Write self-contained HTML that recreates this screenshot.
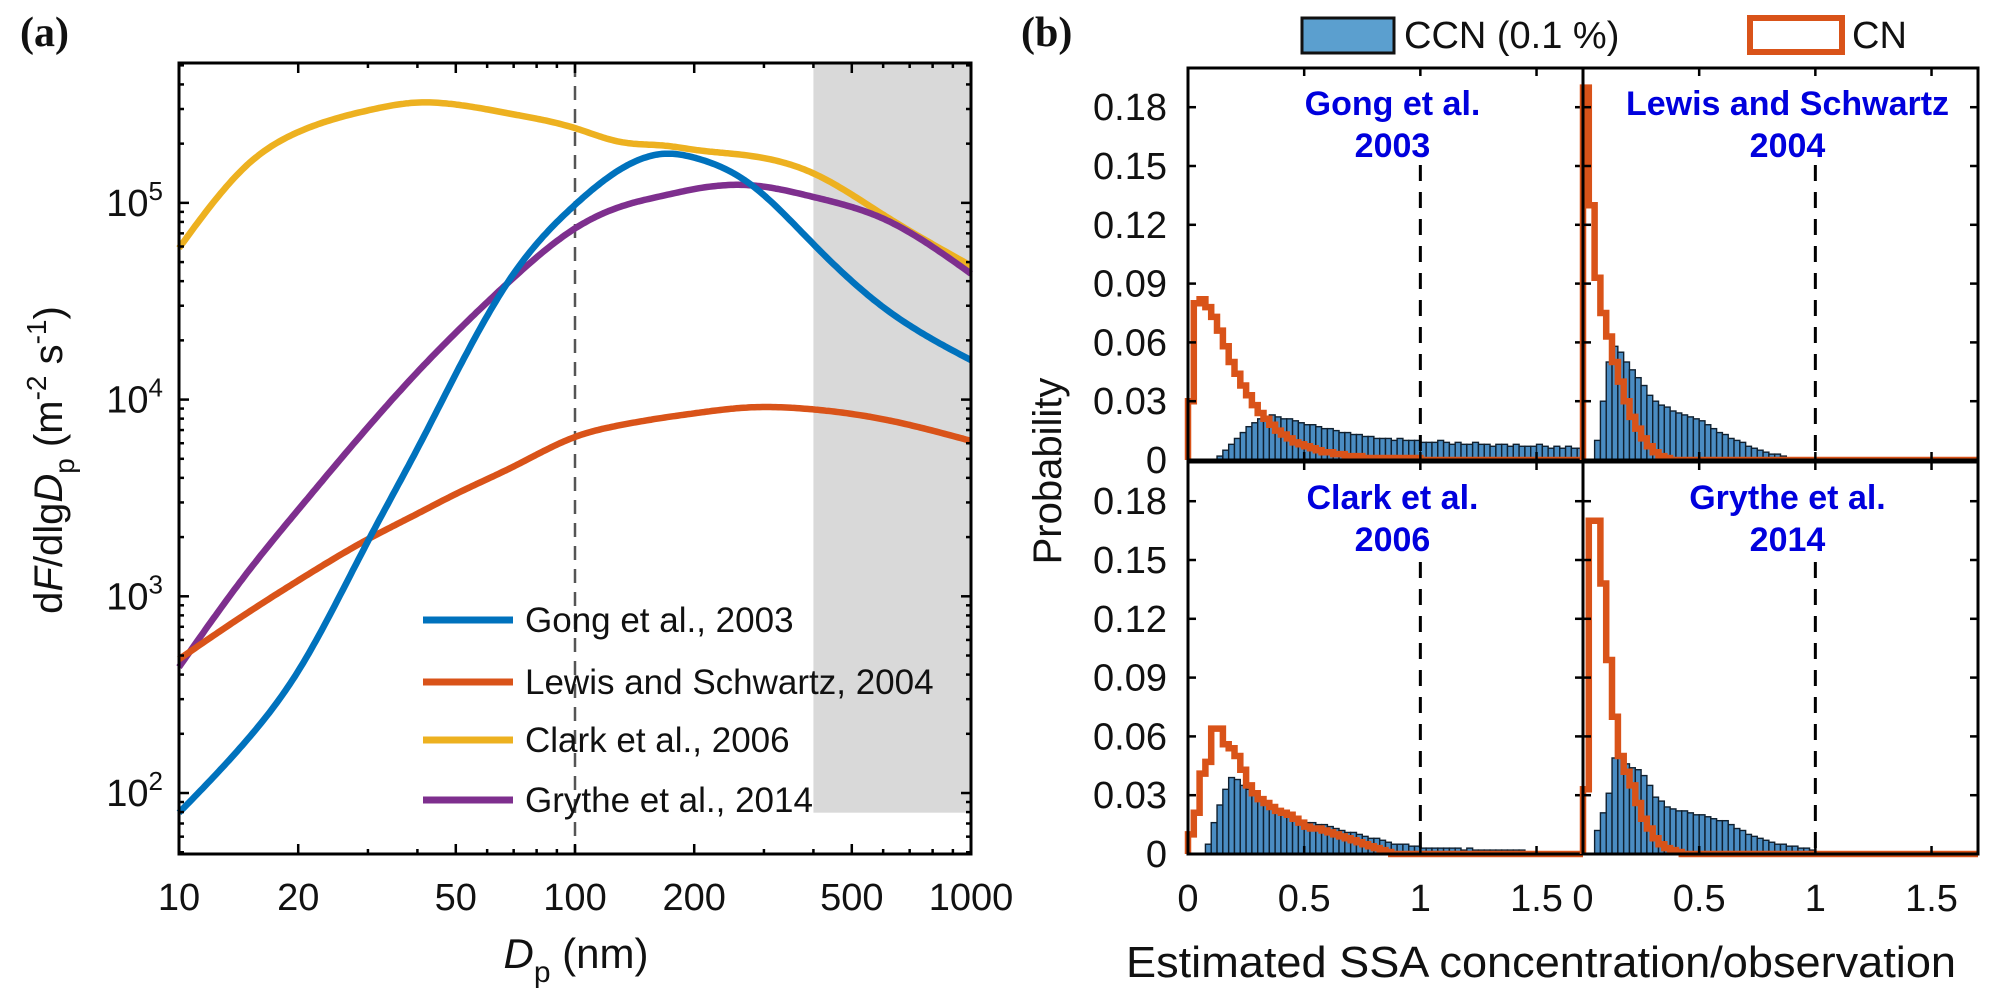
<!DOCTYPE html>
<html><head><meta charset="utf-8">
<style>
html,body{margin:0;padding:0;background:#fff;}
svg{display:block;font-family:"Liberation Sans",Arial,sans-serif;}
</style></head>
<body>
<svg id="fig" width="1993" height="998" viewBox="0 0 1993 998" xmlns="http://www.w3.org/2000/svg">
  <g id="pa"></g>
  <g id="pb"></g>
</svg>
<script>
// ---------- Panel (a) data ----------
const dpCategories = [10,15,20,30,40,50,70,100,130,170,200,275,400,600,1000];
const gongLog   = [1.90,2.28,2.62,3.28,3.75,4.13,4.64,4.99,5.17,5.25,5.23,5.10,4.79,4.47,4.20];
const lewisLog  = [2.68,2.92,3.08,3.29,3.42,3.52,3.66,3.81,3.87,3.91,3.93,3.96,3.95,3.90,3.79];
const clarkLog  = [4.77,5.20,5.36,5.47,5.51,5.50,5.45,5.38,5.31,5.29,5.27,5.24,5.15,4.94,4.68];
const grytheLog = [2.64,3.13,3.44,3.86,4.14,4.34,4.62,4.87,4.98,5.04,5.07,5.09,5.03,4.92,4.64];
const xTickLabelsA = ["10","20","50","100","200","500","1000"];
const yTickExpA = [2,3,4,5];
const legendLabelsA = ["Gong et al., 2003","Lewis and Schwartz, 2004","Clark et al., 2006","Grythe et al., 2014"];

// ---------- Panel (b) data (bin width 0.025) ----------
const binWidth = 0.025;
const yTickLabelsB = ["0","0.03","0.06","0.09","0.12","0.15","0.18"];
const xTickLabelsB = ["0","0.5","1","1.5"];
const panelTitles = [["Gong et al.","2003"],["Lewis and Schwartz","2004"],["Clark et al.","2006"],["Grythe et al.","2014"]];
const gongCCN = [0,0,0,0,0,0.002,0.005,0.008,0.011,0.014,0.017,0.019,0.021,0.022,0.023,0.022,0.021,0.021,0.020,0.019,0.018,0.018,0.017,0.016,0.016,0.015,0.014,0.014,0.013,0.013,0.012,0.012,0.011,0.011,0.011,0.010,0.011,0.010,0.010,0.010,0.009,0.009,0.009,0.010,0.009,0.008,0.009,0.008,0.008,0.009,0.008,0.008,0.007,0.008,0.008,0.007,0.008,0.007,0.007,0.007,0.008,0.007,0.006,0.007,0.006,0.007,0.006,0.006];
const gongCN = [0.030,0.080,0.082,0.078,0.073,0.066,0.058,0.050,0.044,0.038,0.033,0.028,0.024,0.021,0.018,0.015,0.013,0.011,0.009,0.008,0.007,0.006,0.005,0.004,0.004,0.003,0.003,0.002,0.002,0.002,0.001,0.001,0.001,0.001,0.001,0.001,0.001,0.001,0.001,0.001];
const lewisCCN = [0,0,0.010,0.030,0.050,0.058,0.055,0.050,0.046,0.042,0.038,0.033,0.030,0.028,0.027,0.025,0.024,0.023,0.022,0.021,0.020,0.018,0.016,0.014,0.013,0.011,0.010,0.009,0.007,0.006,0.005,0.004,0.003,0.003,0.002,0.001];
const lewisCN = [0.190,0.130,0.093,0.075,0.063,0.050,0.040,0.030,0.022,0.016,0.011,0.007,0.004,0.002,0.001];
const clarkCCN = [0,0,0,0.005,0.016,0.025,0.033,0.039,0.038,0.035,0.033,0.030,0.028,0.027,0.025,0.022,0.021,0.019,0.018,0.017,0.016,0.016,0.015,0.015,0.014,0.013,0.012,0.011,0.011,0.010,0.009,0.008,0.008,0.007,0.006,0.005,0.005,0.005,0.004,0.004,0.003,0.003,0.003,0.003,0.003,0.003,0.003,0.002,0.003,0.002,0.002,0.002,0.002,0.002,0.002,0.002,0.002,0.002,0.001,0.001,0.001,0.001];
const clarkCN = [0.010,0.021,0.041,0.047,0.064,0.064,0.056,0.054,0.050,0.043,0.035,0.031,0.028,0.026,0.024,0.022,0.021,0.020,0.018,0.016,0.014,0.013,0.013,0.012,0.011,0.010,0.009,0.008,0.007,0.006,0.005,0.004,0.003,0.002,0.001];
const grytheCCN = [0,0,0.012,0.021,0.031,0.049,0.049,0.046,0.044,0.043,0.040,0.035,0.029,0.027,0.024,0.023,0.022,0.022,0.021,0.020,0.020,0.019,0.018,0.017,0.017,0.015,0.013,0.012,0.010,0.009,0.008,0.007,0.006,0.005,0.005,0.004,0.004,0.003,0.003,0.002,0.001];
const grytheCN = [0.033,0.170,0.170,0.138,0.099,0.070,0.050,0.042,0.035,0.026,0.018,0.013,0.008,0.005,0.003,0.002,0.001];

const NS = "http://www.w3.org/2000/svg";
function mk(tag, attrs, parent){
  const e = document.createElementNS(NS, tag);
  for (const k in attrs) e.setAttribute(k, attrs[k]);
  parent.appendChild(e);
  return e;
}

// ================= Panel (a) =================
const pa = document.getElementById('pa');
const A = {l:179, r:971, t:63, b:854, x0:1, x1:3, y0:1.69, y1:5.711};
const xA = d => A.l + (Math.log10(d) - A.x0) / (A.x1 - A.x0) * (A.r - A.l);
const yA = lg => A.b - (lg - A.y0) / (A.y1 - A.y0) * (A.b - A.t);

let shade = mk('rect', {x:xA(400), y:A.t, width:A.r - xA(400), height:yA(1.9)-A.t, fill:'#d9d9d9'}, pa);



let ref = mk('line', {x1:xA(100), x2:xA(100), y1:A.t, y2:A.b, stroke:'#555', 'stroke-width':2.5, 'stroke-dasharray':'14 9'}, pa);



function naturalSpline(xs, ys){
  const n = xs.length, h = [], al = [], l = [1], mu = [0], z = [0], c = new Array(n).fill(0), b = [], d = [];
  for (let i=0;i<n-1;i++) h.push(xs[i+1]-xs[i]);
  for (let i=1;i<n-1;i++) al[i] = 3/h[i]*(ys[i+1]-ys[i]) - 3/h[i-1]*(ys[i]-ys[i-1]);
  for (let i=1;i<n-1;i++){
    l[i] = 2*(xs[i+1]-xs[i-1]) - h[i-1]*mu[i-1];
    mu[i] = h[i]/l[i];
    z[i] = (al[i]-h[i-1]*z[i-1])/l[i];
  }
  for (let j=n-2;j>=0;j--){
    c[j] = (j>0 ? z[j] - mu[j]*c[j+1] : 0);
    b[j] = (ys[j+1]-ys[j])/h[j] - h[j]*(c[j+1]+2*c[j])/3;
    d[j] = (c[j+1]-c[j])/(3*h[j]);
  }
  return x => {
    let j = 0; while (j < n-2 && x > xs[j+1]) j++;
    const dx = x - xs[j];
    return ys[j] + b[j]*dx + c[j]*dx*dx + d[j]*dx*dx*dx;
  };
}
const seriesA = [
  {vals:gongLog,  color:'#0072BD', name:'line-gong-2003'},
  {vals:lewisLog, color:'#D95319', name:'line-lewis-schwartz-2004'},
  {vals:clarkLog, color:'#EDB120', name:'line-clark-2006'},
  {vals:grytheLog,color:'#7E2F8E', name:'line-grythe-2014'}
];
const drawOrder = [2,3,1,0];
drawOrder.forEach(si => {
  const s = seriesA[si];
  const lx = dpCategories.map(d => Math.log10(d));
  const f = naturalSpline(lx, s.vals);
  const pts = [];
  for (let k = 0; k <= 300; k++){
    const lgx = 1 + 2*k/300;
    pts.push([xA(Math.pow(10,lgx)), yA(f(lgx))]);
  }
  const d = pts.map((p,i)=>(i?'L':'M')+p[0].toFixed(1)+' '+p[1].toFixed(1)).join(' ');
  const path = mk('path', {d:d, fill:'none', stroke:s.color, 'stroke-width':6.5, 'stroke-linejoin':'round'}, pa);
  
  
});

let boxA = mk('rect', {x:A.l, y:A.t, width:A.r-A.l, height:A.b-A.t, fill:'none', stroke:'#000', 'stroke-width':3}, pa);



const majorX = [10,20,50,100,200,500,1000];
for (let dec = 10; dec < 1000; dec *= 10){
  for (let m = 1; m < 10; m++){
    const d = dec*m; const x = xA(d);
    const major = majorX.includes(d);
    const len = major ? 10 : 5;
    mk('line', {x1:x,x2:x,y1:A.b,y2:A.b-len,stroke:'#000','stroke-width':2.5}, pa);
    mk('line', {x1:x,x2:x,y1:A.t,y2:A.t+len,stroke:'#000','stroke-width':2.5}, pa);
  }
}
xTickLabelsA.forEach((lab,i) => {
  const t = mk('text', {x:xA(majorX[i]), y:910, 'text-anchor':'middle', 'font-size':38, fill:'#111'}, pa);
  t.textContent = lab;
  
  
});
for (let e = 1; e <= 5; e++){
  for (let m = 1; m < 10; m++){
    const lg = e + Math.log10(m);
    if (lg < A.y0 || lg > A.y1) continue;
    const y = yA(lg); const len = m===1 ? 10 : 5;
    mk('line', {x1:A.l,x2:A.l+len,y1:y,y2:y,stroke:'#000','stroke-width':2.5}, pa);
    mk('line', {x1:A.r,x2:A.r-len,y1:y,y2:y,stroke:'#000','stroke-width':2.5}, pa);
  }
}
yTickExpA.forEach(e => {
  const t = mk('text', {x:163, y:yA(e)+13, 'text-anchor':'end', 'font-size':38, fill:'#111'}, pa);
  t.innerHTML = '10<tspan font-size="26" dy="-16">' + e + '</tspan>';
  
  
});
let xtA = mk('text', {x:576, y:968, 'text-anchor':'middle', 'font-size':42, fill:'#111'}, pa);
xtA.innerHTML = '<tspan font-style="italic">D</tspan><tspan font-size="30" dy="14">p</tspan><tspan dy="-14"> (nm)</tspan>';


let ytA = mk('text', {x:0, y:0, 'text-anchor':'middle', 'font-size':40, fill:'#111', transform:'translate(62,460) rotate(-90)'}, pa);
ytA.innerHTML = 'd<tspan font-style="italic">F</tspan>/dlg<tspan font-style="italic">D</tspan><tspan font-size="28" dy="12">p</tspan><tspan dy="-12"> (m</tspan><tspan font-size="28" dy="-16">-2</tspan><tspan dy="16"> s</tspan><tspan font-size="28" dy="-16">-1</tspan><tspan dy="16">)</tspan>';


const legY = [620, 682, 740, 800];
legendLabelsA.forEach((lab,i) => {
  const g = mk('g', {}, pa);
  
  
  mk('line', {x1:423,x2:513,y1:legY[i],y2:legY[i],stroke:seriesA[i].color,'stroke-width':7}, g);
  const t = mk('text', {x:525, y:legY[i]+12, 'font-size':35, fill:'#111'}, g);
  t.textContent = lab;
});
let la = mk('text', {x:20, y:46, 'font-size':42, 'font-weight':'bold', 'font-family':'"Liberation Serif",serif', fill:'#111'}, pa);
la.textContent = '(a)';



// ================= Panel (b) =================
const pb = document.getElementById('pb');
const subs = [
  {l:1188, r:1583, t:68,  b:460, ccn:gongCCN,  cn:gongCN,  name:'subplot-gong', dashTop:165},
  {l:1583, r:1978, t:68,  b:460, ccn:lewisCCN, cn:lewisCN, name:'subplot-lewis-schwartz', dashTop:165},
  {l:1188, r:1583, t:462, b:854, ccn:clarkCCN, cn:clarkCN, name:'subplot-clark', dashTop:562},
  {l:1583, r:1978, t:462, b:854, ccn:grytheCCN,cn:grytheCN,name:'subplot-grythe', dashTop:562}
];
const XMAX = 1.7, YMAX = 0.2;
subs.forEach((s, si) => {
  const g = mk('g', {}, pb);
  
  
  const sx = v => s.l + v / XMAX * (s.r - s.l);
  const sy = v => s.b - v / YMAX * (s.b - s.t);
  s.ccn.forEach((v, i) => {
    if (v <= 0) return;
    const b = mk('rect', {x:sx(i*binWidth), y:sy(v), width:sx(binWidth)-sx(0), height:sy(0)-sy(v), fill:'#4a8cc2', stroke:'#10202f', 'stroke-width':1.4}, g);
    
    
  });
  let d = 'M' + sx(0) + ' ' + sy(0);
  const nb = Math.round(XMAX / binWidth);
  for (let i = 0; i < nb; i++){
    const v = i < s.cn.length ? s.cn[i] : 0;
    d += ' L' + sx(i*binWidth).toFixed(1) + ' ' + sy(v).toFixed(1) + ' L' + sx((i+1)*binWidth).toFixed(1) + ' ' + sy(v).toFixed(1);
  }
  const step = mk('path', {d:d, fill:'none', stroke:'#D95319', 'stroke-width':6.5, 'stroke-linejoin':'miter'}, g);
  
  
  const dl = mk('line', {x1:sx(1), x2:sx(1), y1:s.dashTop, y2:s.b, stroke:'#000', 'stroke-width':3, 'stroke-dasharray':'16 11'}, g);
  
  
  mk('rect', {x:s.l, y:s.t, width:s.r-s.l, height:s.b-s.t, fill:'none', stroke:'#000', 'stroke-width':3}, g);
  yTickLabelsB.forEach((lab, k) => {
    const v = parseFloat(lab); const y = sy(v);
    mk('line', {x1:s.l, x2:s.l+8, y1:y, y2:y, stroke:'#000', 'stroke-width':2.5}, g);
    mk('line', {x1:s.r, x2:s.r-8, y1:y, y2:y, stroke:'#000', 'stroke-width':2.5}, g);
    if (si === 0 || si === 2){
      const t = mk('text', {x:1167, y:y+13, 'text-anchor':'end', 'font-size':38, fill:'#111'}, pb);
      t.textContent = lab;
      
      
    }
  });
  xTickLabelsB.forEach(lab => {
    const v = parseFloat(lab); const x = sx(v);
    mk('line', {x1:x, x2:x, y1:s.b, y2:s.b-8, stroke:'#000', 'stroke-width':2.5}, g);
    mk('line', {x1:x, x2:x, y1:s.t, y2:s.t+8, stroke:'#000', 'stroke-width':2.5}, g);
    if (si >= 2){
      const t = mk('text', {x:x, y:911, 'text-anchor':'middle', 'font-size':38, fill:'#111'}, pb);
      t.textContent = lab;
      
      
    }
  });
  const cx = (s.l + s.r) / 2 + 7;
  panelTitles[si].forEach((line, k) => {
    const t = mk('text', {x:cx, y:s.t + 47 + k*42, 'text-anchor':'middle', 'font-size':34, 'font-weight':'bold', fill:'#0000dd'}, g);
    t.textContent = line;
    
    
  });
});
let prob = mk('text', {x:0, y:0, 'text-anchor':'middle', 'font-size':40, fill:'#111', transform:'translate(1061,471) rotate(-90)'}, pb);
prob.textContent = 'Probability';


let xtB = mk('text', {x:1541, y:977, 'text-anchor':'middle', 'font-size':44, fill:'#111', textLength:830, lengthAdjust:'spacingAndGlyphs'}, pb);
xtB.textContent = 'Estimated SSA concentration/observation';


let lb = mk('text', {x:1021, y:46, 'font-size':42, 'font-weight':'bold', 'font-family':'"Liberation Serif",serif', fill:'#111'}, pb);
lb.textContent = '(b)';


let lg1 = mk('g', {}, pb);


mk('rect', {x:1302, y:18, width:92, height:35, fill:'#5b9fcf', stroke:'#111', 'stroke-width':3}, lg1);
let lt1 = mk('text', {x:1404, y:48, 'font-size':38, fill:'#111'}, lg1);
lt1.textContent = 'CCN (0.1 %)';
let lg2 = mk('g', {}, pb);


mk('rect', {x:1750, y:18, width:92, height:34, fill:'#fff', stroke:'#D95319', 'stroke-width':6}, lg2);
let lt2 = mk('text', {x:1852, y:48, 'font-size':38, fill:'#111'}, lg2);
lt2.textContent = 'CN';
</script>
</body></html>
